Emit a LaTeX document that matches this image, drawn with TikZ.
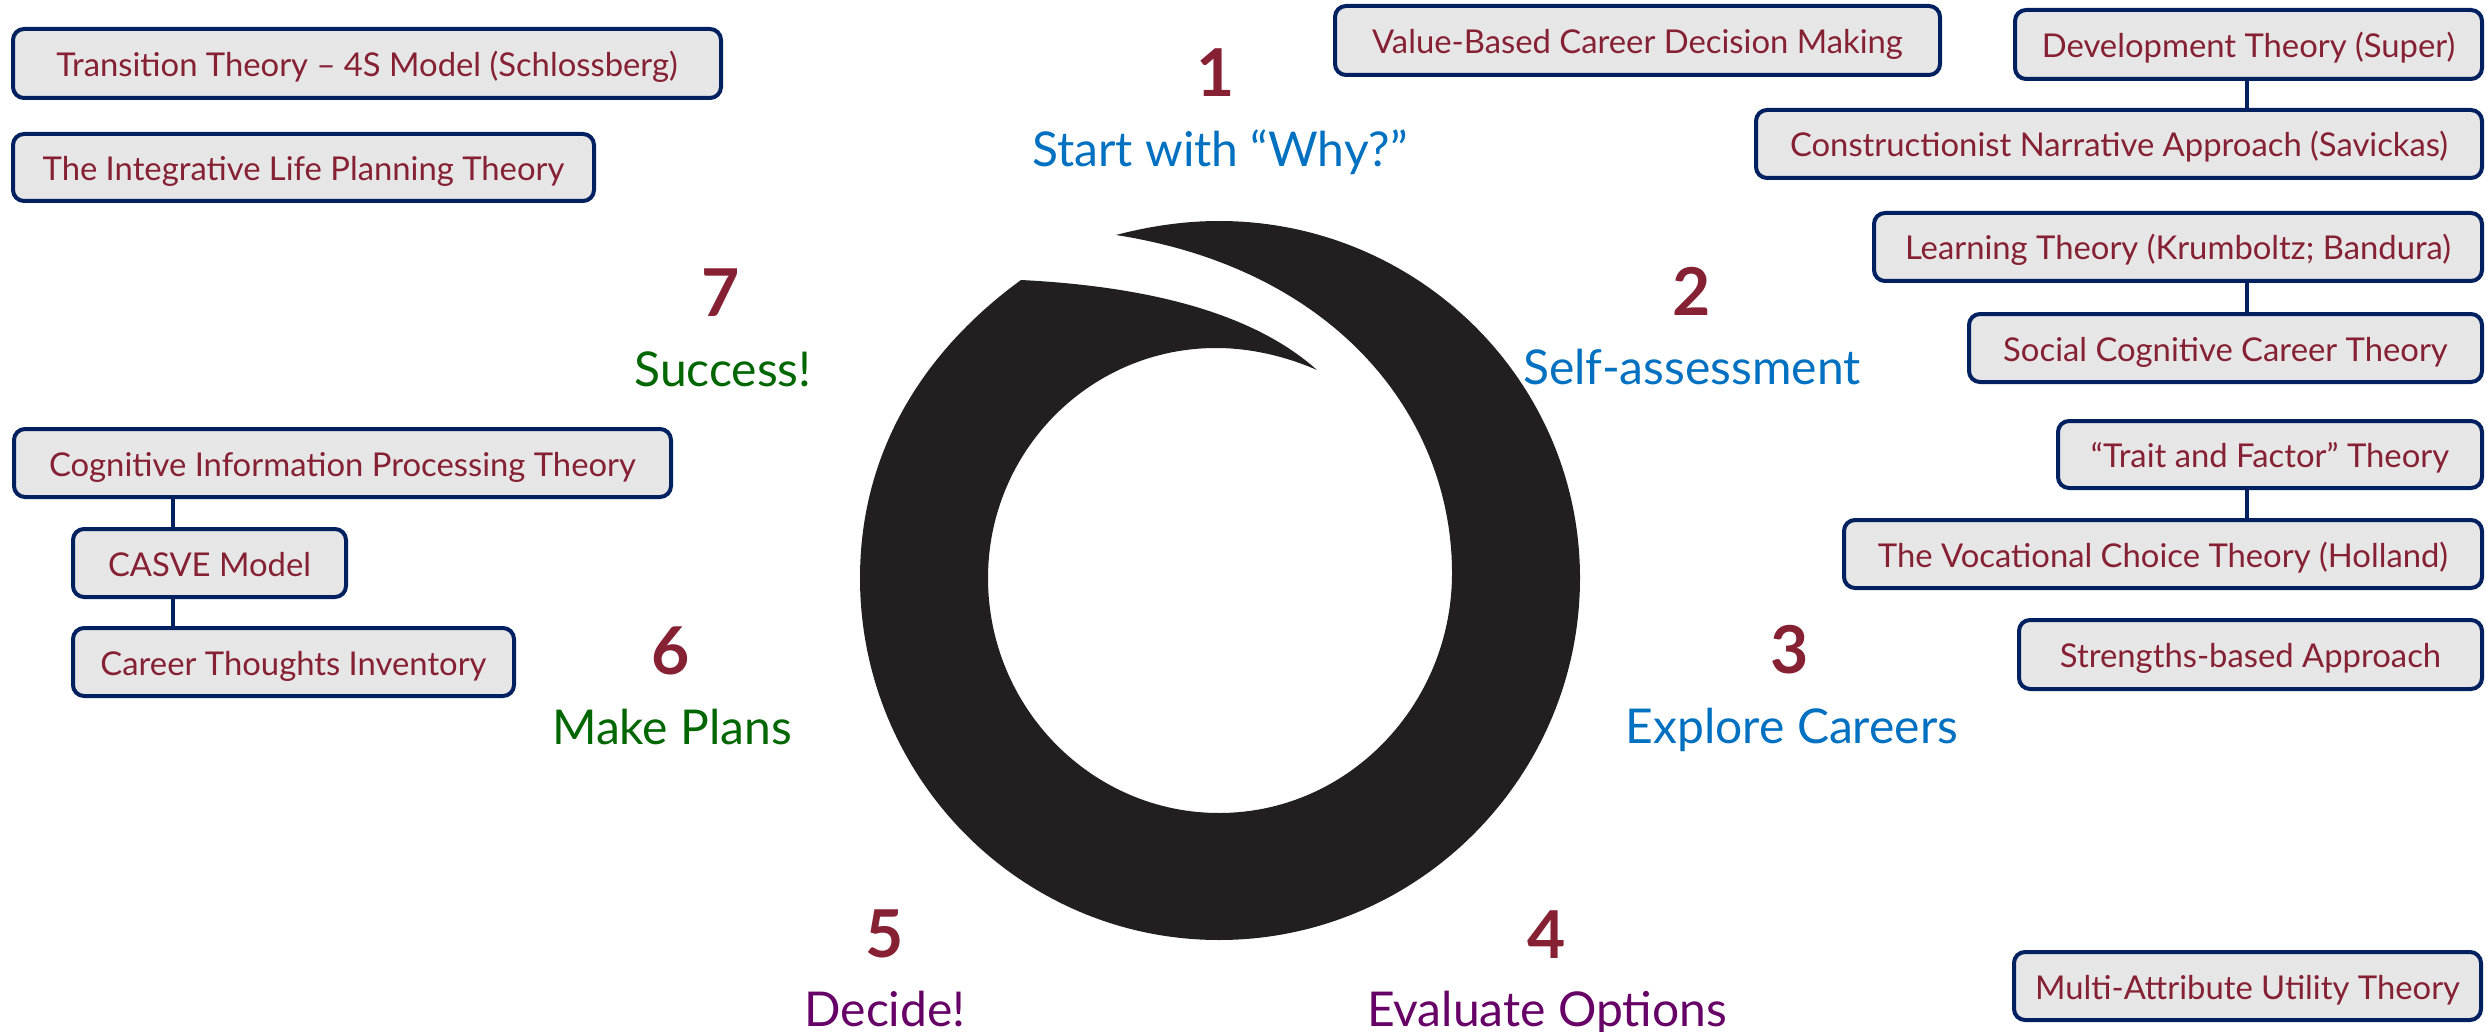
\documentclass[tikz,border=0pt]{standalone}
\usepackage{fontspec}
\setmainfont{Lato}
\definecolor{ringblack}{HTML}{231F20}
\definecolor{boxnavy}{HTML}{002060}
\definecolor{boxgrey}{HTML}{E6E6E6}
\definecolor{maroon}{HTML}{862033}
\definecolor{stepblue}{HTML}{0070C0}
\definecolor{stepgreen}{HTML}{006600}
\definecolor{steppurple}{HTML}{660066}
\tikzset{
  theorybox/.style={draw=boxnavy, fill=boxgrey, line width=4pt, rounded corners=11pt, outer sep=0pt, inner sep=0pt, text=maroon, text height=26pt, text depth=0pt, font=\fontsize{32.8}{38}\selectfont},
  theoryline/.style={draw=boxnavy, line width=3.5pt},
  stepnum/.style={text=maroon, inner sep=0pt, font=\bfseries\fontsize{66}{68}\selectfont},
  steptext/.style={inner sep=0pt, font=\fontsize{48}{54}\selectfont},
}

\begin{document}
\begin{tikzpicture}[x=1pt, y=-1pt]
\useasboundingbox (0,0) rectangle (2486,1032);

% Ring
\fill[ringblack] (1116,235) .. controls (1150,226) and (1185,221) .. (1219,221)
  .. controls (1418,221) and (1580,381) .. (1580,578)
  .. controls (1580,777) and (1418,940) .. (1219,940)
  .. controls (1020,940) and (860,777) .. (860,578)
  .. controls (860,450) and (925,350) .. (1021,280)
  .. controls (1140,286) and (1250,310) .. (1317,370)
  .. controls (1285,356) and (1250,348) .. (1216,348)
  .. controls (1090,348) and (988,451) .. (988,578)
  .. controls (988,708) and (1092,813) .. (1219,813)
  .. controls (1348,813) and (1452,705) .. (1452,573)
  .. controls (1452,420) and (1340,270) .. (1116,235) -- cycle;

% Steps
\node[stepnum] (num1) at (1216,73) {1};
\node[steptext, text=stepblue] (why) at (1220,152) {Start with “Why?”};
\node[stepnum] (num2) at (1692,291) {2};
\node[steptext, text=stepblue] (self) at (1692,367) {Self-assessment};
\node[stepnum] (num3) at (1790,650) {3};
\node[steptext, text=stepblue] (explore) at (1792,730) {Explore Careers};
\node[stepnum] (num4) at (1547,935) {4};
\node[steptext, text=steppurple] (evaluate) at (1547,1013) {Evaluate Options};
\node[stepnum] (num5) at (885,934) {5};
\node[steptext, text=steppurple] (decide) at (885,1009) {Decide!};
\node[stepnum] (num6) at (671,651) {6};
\node[steptext, text=stepgreen] (plans) at (672,727) {Make Plans};
\node[stepnum] (num7) at (721,293) {7};
\node[steptext, text=stepgreen] (success) at (723,369) {Success!};

% Theories, left side
\node[theorybox, minimum width=708pt, minimum height=69pt] (transition) at (367,63.5) {Transition Theory – 4S Model (Schlossberg)};
\node[theorybox, minimum width=581pt, minimum height=67pt] (integrative) at (303.5,167.5) {The Integrative Life Planning Theory};
\node[theorybox, minimum width=657pt, minimum height=68pt] (cognitive) at (342.5,463) {Cognitive Information Processing Theory};
\node[theorybox, minimum width=273pt, minimum height=68pt] (casve) at (209.5,563) {CASVE Model};
\node[theorybox, minimum width=441pt, minimum height=68pt] (thoughts) at (293.5,662) {Career Thoughts Inventory};

% Theories, right side
\node[theorybox, minimum width=605pt, minimum height=69pt] (value) at (1637.5,40.5) {Value-Based Career Decision Making};
\node[theorybox, minimum width=467pt, minimum height=69pt] (development) at (2248.5,44.5) {Development Theory (Super)};
\node[theorybox, minimum width=726pt, minimum height=68pt] (narrative) at (2119,144) {Constructionist Narrative Approach (Savickas)};
\node[theorybox, minimum width=608pt, minimum height=68pt] (learning) at (2178,247) {Learning Theory (Krumboltz; Bandura)};
\node[theorybox, minimum width=513pt, minimum height=68pt] (social) at (2225.5,348) {Social Cognitive Career Theory};
\node[theorybox, minimum width=424pt, minimum height=67pt] (trait) at (2270,454.5) {“Trait and Factor” Theory};
\node[theorybox, minimum width=638pt, minimum height=68pt] (vocational) at (2163,554) {The Vocational Choice Theory (Holland)};
\node[theorybox, minimum width=463pt, minimum height=69pt] (strengths) at (2250.5,654.5) {Strengths-based Approach};
\node[theorybox, minimum width=467pt, minimum height=68pt] (utility) at (2247.5,986) {Multi-Attribute Utility Theory};

% Connectors
\coordinate (leftline) at (173,0);
\coordinate (rightline) at (2247,0);
\draw[theoryline] (cognitive.south -| leftline) -- (casve.north -| leftline);
\draw[theoryline] (casve.south -| leftline) -- (thoughts.north -| leftline);
\draw[theoryline] (development.south -| rightline) -- (narrative.north -| rightline);
\draw[theoryline] (learning.south -| rightline) -- (social.north -| rightline);
\draw[theoryline] (trait.south -| rightline) -- (vocational.north -| rightline);

\end{tikzpicture}
\end{document}
